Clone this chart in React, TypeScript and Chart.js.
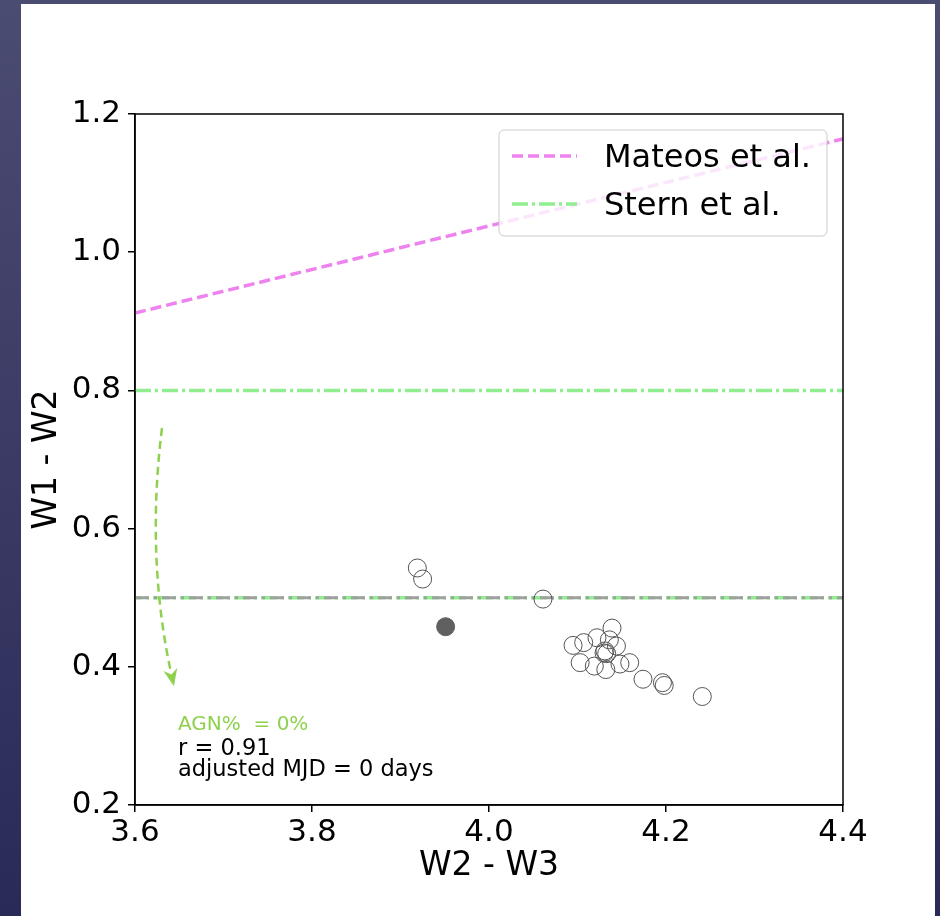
import React, { useEffect, useRef } from "react";
import { Chart, registerables } from "chart.js";

Chart.register(...registerables);

const xTicks = [3.6, 3.8, 4.0, 4.2, 4.4];
const yTicks = [0.2, 0.4, 0.6, 0.8, 1.0, 1.2];

const openX = [3.919, 3.925, 4.061, 4.139, 4.095, 4.107, 4.122, 4.136, 4.144, 4.131, 4.133, 4.130, 4.103, 4.119, 4.132, 4.148, 4.159, 4.174, 4.196, 4.198, 4.241];
const openY = [0.543, 0.527, 0.498, 0.456, 0.431, 0.435, 0.442, 0.439, 0.430, 0.423, 0.419, 0.420, 0.406, 0.401, 0.396, 0.404, 0.406, 0.382, 0.377, 0.373, 0.357];

const filledX = [3.951];
const filledY = [0.458];

const mateosX = [3.6, 4.4];
const mateosY = [0.912, 1.164];
const sternY = 0.8;
const lowerY = 0.5;

const arrowStart = [3.6305, 0.7456];
const arrowCtrl = [3.6124, 0.559];
const arrowEnd = [3.644, 0.372];

const noteX = 3.6486;
const noteLines = [
  { text: "AGN%  = 0%", y: 0.3085, color: "#8fd14f", size: 20 },
  { text: "r = 0.91", y: 0.2724, color: "#000000", size: 22.5 },
  { text: "adjusted MJD = 0 days", y: 0.242, color: "#000000", size: 22.5 },
];

const MATEOS_DASH = [11, 5];
const STERN_DASH = [16, 4, 3, 4];

const legendItems = [
  { label: "Mateos et al.", color: "#ee82ee", dash: MATEOS_DASH },
  { label: "Stern et al.", color: "#90ee90", dash: STERN_DASH },
];

const FONT = "'DejaVu Sans', sans-serif";

const bgPlugin = {
  id: "bg",
  beforeDraw(chart: any) {
    const { ctx, width, height } = chart;
    ctx.save();
    const g = ctx.createLinearGradient(0, 0, 0, height);
    g.addColorStop(0, "#4b4c72");
    g.addColorStop(1, "#2a2a58");
    ctx.fillStyle = g;
    ctx.fillRect(0, 0, width, height);
    ctx.fillStyle = "#ffffff";
    ctx.fillRect(21, 4, 914, height - 4);
    ctx.restore();
  },
};

const overlayPlugin = {
  id: "overlay",
  afterDatasetsDraw(chart: any) {
    const { ctx, chartArea, scales } = chart;
    const xs = scales.x;
    const ys = scales.y;
    ctx.save();
    // legend
    const lx = 499, ly = 130, lw = 328, lh = 106, r = 5;
    ctx.beginPath();
    ctx.moveTo(lx + r, ly);
    ctx.arcTo(lx + lw, ly, lx + lw, ly + lh, r);
    ctx.arcTo(lx + lw, ly + lh, lx, ly + lh, r);
    ctx.arcTo(lx, ly + lh, lx, ly, r);
    ctx.arcTo(lx, ly, lx + lw, ly, r);
    ctx.closePath();
    ctx.fillStyle = "rgba(255,255,255,0.8)";
    ctx.fill();
    ctx.strokeStyle = "#cccccc";
    ctx.lineWidth = 1;
    ctx.stroke();
    legendItems.forEach((it, i) => {
      const yy = 156 + i * 48;
      ctx.beginPath();
      ctx.setLineDash(it.dash);
      ctx.strokeStyle = it.color;
      ctx.lineWidth = 3.5;
      ctx.moveTo(512, yy);
      ctx.lineTo(577, yy);
      ctx.stroke();
      ctx.setLineDash([]);
      ctx.fillStyle = "#000";
      ctx.font = `32px ${FONT}`;
      ctx.textBaseline = "middle";
      ctx.textAlign = "left";
      ctx.fillText(it.label, 604, yy + 3);
    });

    // arrow
    const p0 = [xs.getPixelForValue(arrowStart[0]), ys.getPixelForValue(arrowStart[1])];
    const pc = [xs.getPixelForValue(arrowCtrl[0]), ys.getPixelForValue(arrowCtrl[1])];
    const p2 = [xs.getPixelForValue(arrowEnd[0]), ys.getPixelForValue(arrowEnd[1])];
    const dx = p2[0] - pc[0], dy = p2[1] - pc[1];
    const len = Math.hypot(dx, dy);
    const ux = dx / len, uy = dy / len;
    const hl = 17, hw = 7;
    const base = [p2[0] - ux * hl, p2[1] - uy * hl];
    ctx.beginPath();
    ctx.setLineDash([8, 5]);
    ctx.strokeStyle = "#8fd14f";
    ctx.lineWidth = 2.5;
    ctx.moveTo(p0[0], p0[1]);
    ctx.quadraticCurveTo(pc[0], pc[1], base[0] + ux * 4, base[1] + uy * 4);
    ctx.stroke();
    ctx.setLineDash([]);
    ctx.beginPath();
    ctx.fillStyle = "#8fd14f";
    ctx.moveTo(p2[0], p2[1]);
    ctx.lineTo(base[0] - uy * hw, base[1] + ux * hw);
    ctx.lineTo(base[0] + ux * 5, base[1] + uy * 5);
    ctx.lineTo(base[0] + uy * hw, base[1] - ux * hw);
    ctx.closePath();
    ctx.fill();

    // notes
    ctx.textAlign = "left";
    ctx.textBaseline = "alphabetic";
    noteLines.forEach((n) => {
      ctx.font = `${n.size}px ${FONT}`;
      ctx.fillStyle = n.color;
      ctx.fillText(n.text, xs.getPixelForValue(noteX), ys.getPixelForValue(n.y));
    });

    // frame
    ctx.strokeStyle = "#000";
    ctx.lineWidth = 1.5;
    ctx.strokeRect(chartArea.left, chartArea.top, chartArea.right - chartArea.left, chartArea.bottom - chartArea.top);
    ctx.restore();
  },
};

export default function App() {
  const ref = useRef<HTMLCanvasElement>(null);
  useEffect(() => {
    if (!ref.current) return;
    const chart = new Chart(ref.current, {
      type: "scatter",
      data: {
        datasets: [
          {
            type: "scatter",
            label: "points",
            data: openX.map((x, i) => ({ x, y: openY[i] })),
            pointRadius: 9,
            pointHoverRadius: 9,
            backgroundColor: "rgba(0,0,0,0)",
            borderColor: "#555555",
            borderWidth: 1,
            order: 0,
          },
          {
            type: "scatter",
            label: "filled",
            data: filledX.map((x, i) => ({ x, y: filledY[i] })),
            pointRadius: 9,
            backgroundColor: "#606060",
            borderColor: "#606060",
            borderWidth: 1,
            order: 0,
          },
          {
            type: "line",
            label: "gray",
            data: [{ x: 3.6, y: lowerY }, { x: 4.4, y: lowerY }],
            borderColor: "#a0a0a0",
            borderWidth: 3,
            borderDash: [14, 5, 3, 5],
            pointRadius: 0,
            order: 1,
          },
          {
            type: "line",
            label: "Stern lower",
            data: [{ x: 3.6, y: lowerY }, { x: 4.4, y: lowerY }],
            borderColor: "#90ee90",
            borderWidth: 3.5,
            borderDash: STERN_DASH,
            borderDashOffset: 9,
            pointRadius: 0,
            order: 2,
          },
          {
            type: "line",
            label: "Stern et al.",
            data: [{ x: 3.6, y: sternY }, { x: 4.4, y: sternY }],
            borderColor: "#90ee90",
            borderWidth: 3.5,
            borderDash: STERN_DASH,
            pointRadius: 0,
            order: 3,
          },
          {
            type: "line",
            label: "Mateos et al.",
            data: mateosX.map((x, i) => ({ x, y: mateosY[i] })),
            borderColor: "#ee82ee",
            borderWidth: 3.5,
            borderDash: MATEOS_DASH,
            pointRadius: 0,
            order: 4,
          },
        ],
      },
      options: {
        responsive: false,
        animation: false,
        layout: { padding: { left: 22, top: 114, right: 97, bottom: 0 } },
        plugins: { legend: { display: false }, tooltip: { enabled: false } },
        scales: {
          x: {
            type: "linear",
            min: 3.6,
            max: 4.4,
            afterBuildTicks: (s: any) => { s.ticks = xTicks.map((v) => ({ value: v })); },
            afterFit: (s: any) => { s.height = 111; },
            ticks: {
              color: "#000",
              font: { family: FONT, size: 31 },
              padding: 2,
              maxRotation: 0,
              callback: (v: any) => Number(v).toFixed(1),
            },
            grid: { display: true, drawOnChartArea: false, drawTicks: true, tickLength: 7, color: "#000", lineWidth: 1.5 },
            border: { display: true, color: "#000", width: 1.5 },
            title: { display: true, text: "W2 - W3", color: "#000", font: { family: FONT, size: 33 }, padding: { top: 0, bottom: 30 } },
          },
          y: {
            type: "linear",
            min: 0.2,
            max: 1.2,
            afterBuildTicks: (s: any) => { s.ticks = yTicks.map((v) => ({ value: v })); },
            afterFit: (s: any) => { s.width = 113; },
            ticks: {
              color: "#000",
              font: { family: FONT, size: 31 },
              padding: 7,
              callback: (v: any) => Number(v).toFixed(1),
            },
            grid: { display: true, drawOnChartArea: false, drawTicks: true, tickLength: 7, color: "#000", lineWidth: 1.5 },
            border: { display: true, color: "#000", width: 1.5 },
            title: { display: true, text: "W1 - W2", color: "#000", font: { family: FONT, size: 33 }, padding: { top: 6, bottom: 0 } },
          },
        },
      },
      plugins: [bgPlugin, overlayPlugin],
    } as any);
    return () => chart.destroy();
  }, []);
  return (
    <canvas
      ref={ref}
      width={940}
      height={916}
      style={{ position: "absolute", left: 0, top: 0, width: 940, height: 916, display: "block" }}
    />
  );
}
